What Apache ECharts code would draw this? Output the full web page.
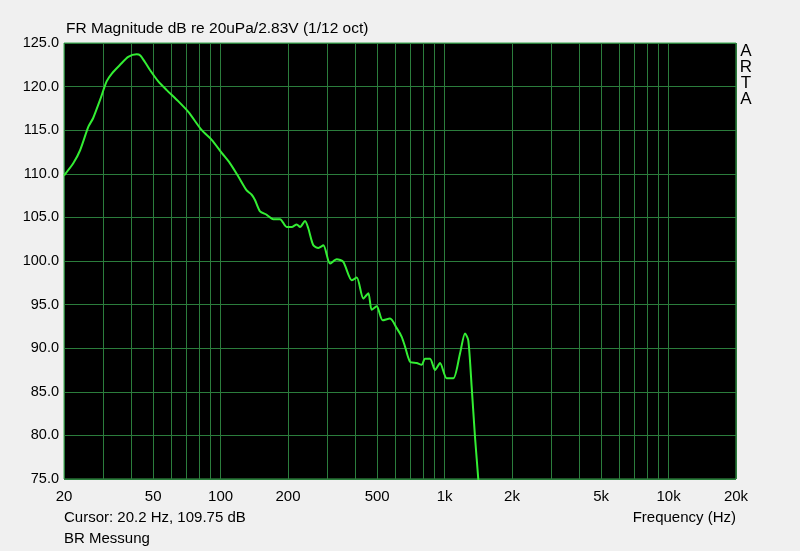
<!DOCTYPE html>
<html>
<head>
<meta charset="utf-8">
<script src="https://cdn.jsdelivr.net/npm/echarts@6/dist/echarts.min.js"></script>
<style>
html,body{margin:0;padding:0;background:#f0f0f0;}
#c{width:800px;height:551px;}
</style>
</head>
<body>
<div id="c"></div>
<script>
// Frequency (Hz)
const freq = [20, 22.0, 23.6, 25.7, 27.0, 29.0, 31.0, 32.7, 35.6, 38.7, 42.2, 43.7, 46.0, 48.4, 52.7, 57.5, 63.7, 71.8, 82.4, 91.3, 101.2, 110.2, 120.0, 130.8, 137.7, 142.4, 150.0, 160.7, 171.9, 184.2, 197.3, 207.8, 218.8, 226.3, 238.3, 246.4, 259.5, 273.2, 287.6, 308.1, 330.1, 353.1, 385.1, 405.5, 433.9, 456.7, 472.8, 497.8, 529.4, 570.8, 611.5, 643.6, 665.8, 700.9, 751.1, 790.7, 817.9, 861.0, 906.6, 954.4, 1022, 1094, 1172, 1234, 1276, 1321, 1367, 1415, 1440];
// Magnitude (dB)
const magnitude = [109.8, 111.2, 112.7, 115.4, 116.4, 118.5, 120.6, 121.5, 122.5, 123.4, 123.7, 123.6, 122.8, 121.9, 120.6, 119.6, 118.5, 117.1, 115.0, 113.9, 112.4, 111.2, 109.7, 108.1, 107.6, 107.0, 105.7, 105.3, 104.8, 104.8, 103.9, 103.9, 104.2, 103.9, 104.6, 103.75, 101.8, 101.5, 101.8, 99.7, 100.2, 99.9, 97.8, 98.1, 95.7, 96.3, 94.4, 94.8, 93.2, 93.4, 92.3, 91.3, 90.2, 88.45, 88.3, 88.1, 88.8, 88.8, 87.5, 88.3, 86.55, 86.55, 89.4, 91.7, 90.9, 85.6, 79.85, 74.9, 72.0];
// Axis ticks
const gridFreqs = [20,30,40,50,60,70,80,90,100,200,300,400,500,600,700,800,900,1000,2000,3000,4000,5000,6000,7000,8000,9000,10000,20000];
const labelFreqs = [20,50,100,200,500,1000,2000,5000,10000,20000];
const yMin = 75, yMax = 125, yStep = 5;

const chart = echarts.init(document.getElementById('c'), null, {renderer:'canvas'});
const font = 'Liberation Sans, Arial, sans-serif';
const gridColor = '#2b7d3c';
chart.setOption({
  backgroundColor: '#f0f0f0',
  animation: false,
  textStyle: {fontFamily: font},
  grid: {left: 64, top: 43, width: 672, height: 436, show: true, backgroundColor: '#000', borderColor: '#3aa64e', borderWidth: 1},
  xAxis: {
    type: 'log', logBase: 10, min: 20, max: 20000,
    axisLine: {show: false},
    axisTick: {show: false, customValues: gridFreqs},
    axisLabel: {customValues: labelFreqs, color: '#000', fontSize: 15, fontFamily: font, margin: 10,
      formatter: v => v >= 1000 ? (v/1000) + 'k' : String(v)},
    splitLine: {show: true, lineStyle: {color: gridColor, width: 1}},
    minorSplitLine: {show: false}
  },
  yAxis: {
    type: 'value', min: yMin, max: yMax, interval: yStep,
    axisLine: {show: false}, axisTick: {show: false},
    axisLabel: {color: '#000', fontSize: 14.5, fontFamily: font, margin: 5, formatter: v => v.toFixed(1)},
    splitLine: {show: true, lineStyle: {color: gridColor, width: 1}}
  },
  series: [{
    type: 'line', showSymbol: false, smooth: 0.25, clip: true,
    data: freq.map((f, i) => [f, magnitude[i]]),
    lineStyle: {color: '#33ee33', width: 2}
  }],
  graphic: [
    {type: 'text', left: 66, top: 21, style: {text: 'FR Magnitude dB re 20uPa/2.83V (1/12 oct)', font: '15.5px ' + font, fill: '#000'}},
    {type: 'text', left: 64, top: 510, style: {text: 'Cursor: 20.2 Hz, 109.75 dB', font: '15px ' + font, fill: '#000'}},
    {type: 'text', left: 64, top: 531, style: {text: 'BR Messung', font: '15px ' + font, fill: '#000'}},
    {type: 'text', right: 64, top: 510, style: {text: 'Frequency (Hz)', font: '15px ' + font, fill: '#000'}},
    {type: 'text', x: 746, y: 43, style: {text: 'A\nR\nT\nA', font: '17px ' + font, fill: '#000', align: 'center', lineHeight: 16}}
  ]
});
</script>
</body>
</html>
